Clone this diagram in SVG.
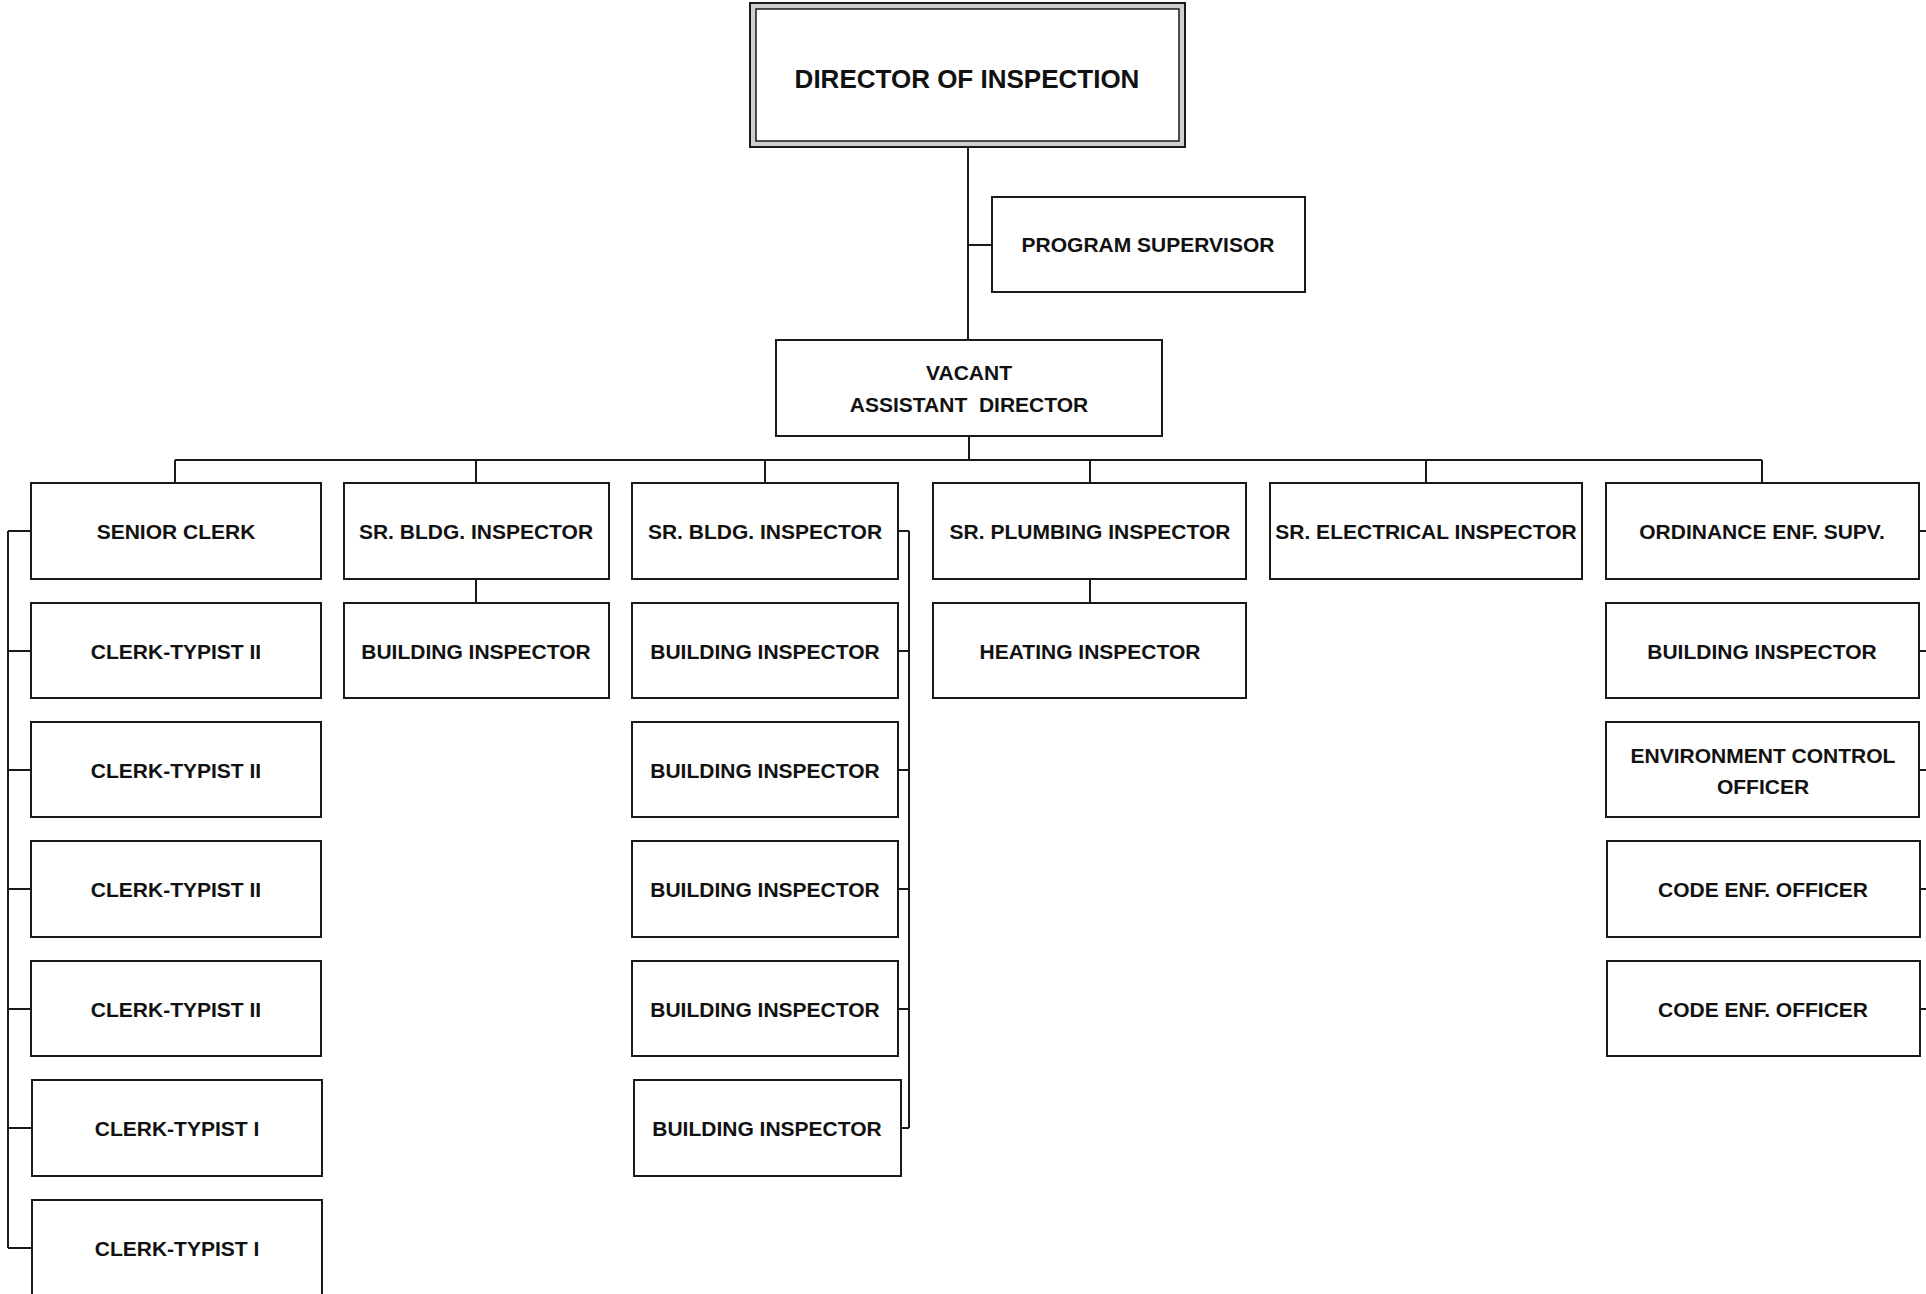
<svg xmlns="http://www.w3.org/2000/svg" width="1926" height="1294" viewBox="0 0 1926 1294">
<style>
.box{fill:#fff;stroke:#1a1a1a;stroke-width:2}
.t{font-family:"Liberation Sans",Arial,sans-serif;font-weight:bold;font-size:21px;fill:#111;text-anchor:middle}
.big{font-size:26px}
.c{fill:none;stroke:#1a1a1a;stroke-width:2}
</style>
<rect width="1926" height="1294" fill="#fff"/>
<g id="connectors">
<path class="c" d="M968 147V340M968 245H992M969 436V460M175 460H1762M175 460V483M476 460V483M765 460V483M1090 460V483M1426 460V483M1762 460V483M476 579V603M1090 579V603"/>
<path class="c" d="M8 531V1248M8 531H31M8 651H31M8 770H31M8 889H31M8 1009H31M8 1128H31M8 1248H31"/>
<path class="c" d="M909 531V1128M898 531H909M898 651H909M898 770H909M898 889H909M898 1009H909M901 1128H909"/>
<path class="c" d="M1919 531H1926M1919 651H1926M1919 770H1926M1919 889H1926M1919 1009H1926"/>
</g>
<g id="director">
<rect x="750" y="3" width="435" height="144" fill="#cfcfcf" stroke="#1a1a1a" stroke-width="2"/>
<rect x="756" y="9" width="423" height="132" fill="#fff" stroke="#1a1a1a" stroke-width="1.5"/>
<text class="t big" x="967" y="88">DIRECTOR OF INSPECTION</text>
</g>
<g id="program-supervisor"><rect class="box" x="992" y="197" width="313" height="95"/><text class="t" x="1148" y="252">PROGRAM SUPERVISOR</text></g>
<g id="assistant-director"><rect class="box" x="776" y="340" width="386" height="96"/><text class="t" x="969" y="380">VACANT</text><text class="t" x="969" y="412" xml:space="preserve">ASSISTANT  DIRECTOR</text></g>
<g id="senior-clerk"><rect class="box" x="31" y="483" width="290" height="96"/><text class="t" x="176" y="539">SENIOR CLERK</text></g>
<g id="clerk-typist-ii-1"><rect class="box" x="31" y="603" width="290" height="95"/><text class="t" x="176" y="659">CLERK-TYPIST II</text></g>
<g id="clerk-typist-ii-2"><rect class="box" x="31" y="722" width="290" height="95"/><text class="t" x="176" y="778">CLERK-TYPIST II</text></g>
<g id="clerk-typist-ii-3"><rect class="box" x="31" y="841" width="290" height="96"/><text class="t" x="176" y="897">CLERK-TYPIST II</text></g>
<g id="clerk-typist-ii-4"><rect class="box" x="31" y="961" width="290" height="95"/><text class="t" x="176" y="1017">CLERK-TYPIST II</text></g>
<g id="clerk-typist-i-1"><rect class="box" x="32" y="1080" width="290" height="96"/><text class="t" x="177" y="1136">CLERK-TYPIST I</text></g>
<g id="clerk-typist-i-2"><rect class="box" x="32" y="1200" width="290" height="100"/><text class="t" x="177" y="1256">CLERK-TYPIST I</text></g>
<g id="sr-bldg-inspector-1"><rect class="box" x="344" y="483" width="265" height="96"/><text class="t" x="476" y="539">SR. BLDG. INSPECTOR</text></g>
<g id="building-inspector-a"><rect class="box" x="344" y="603" width="265" height="95"/><text class="t" x="476" y="659">BUILDING INSPECTOR</text></g>
<g id="sr-bldg-inspector-2"><rect class="box" x="632" y="483" width="266" height="96"/><text class="t" x="765" y="539">SR. BLDG. INSPECTOR</text></g>
<g id="building-inspector-b1"><rect class="box" x="632" y="603" width="266" height="95"/><text class="t" x="765" y="659">BUILDING INSPECTOR</text></g>
<g id="building-inspector-b2"><rect class="box" x="632" y="722" width="266" height="95"/><text class="t" x="765" y="778">BUILDING INSPECTOR</text></g>
<g id="building-inspector-b3"><rect class="box" x="632" y="841" width="266" height="96"/><text class="t" x="765" y="897">BUILDING INSPECTOR</text></g>
<g id="building-inspector-b4"><rect class="box" x="632" y="961" width="266" height="95"/><text class="t" x="765" y="1017">BUILDING INSPECTOR</text></g>
<g id="building-inspector-b5"><rect class="box" x="634" y="1080" width="267" height="96"/><text class="t" x="767" y="1136">BUILDING INSPECTOR</text></g>
<g id="sr-plumbing-inspector"><rect class="box" x="933" y="483" width="313" height="96"/><text class="t" x="1090" y="539">SR. PLUMBING INSPECTOR</text></g>
<g id="heating-inspector"><rect class="box" x="933" y="603" width="313" height="95"/><text class="t" x="1090" y="659">HEATING INSPECTOR</text></g>
<g id="sr-electrical-inspector"><rect class="box" x="1270" y="483" width="312" height="96"/><text class="t" x="1426" y="539">SR. ELECTRICAL INSPECTOR</text></g>
<g id="ordinance-enf-supv"><rect class="box" x="1606" y="483" width="313" height="96"/><text class="t" x="1762" y="539">ORDINANCE ENF. SUPV.</text></g>
<g id="building-inspector-c"><rect class="box" x="1606" y="603" width="313" height="95"/><text class="t" x="1762" y="659">BUILDING INSPECTOR</text></g>
<g id="environment-control-officer"><rect class="box" x="1606" y="722" width="313" height="95"/><text class="t" x="1763" y="763">ENVIRONMENT CONTROL</text><text class="t" x="1763" y="794">OFFICER</text></g>
<g id="code-enf-officer-1"><rect class="box" x="1607" y="841" width="313" height="96"/><text class="t" x="1763" y="897">CODE ENF. OFFICER</text></g>
<g id="code-enf-officer-2"><rect class="box" x="1607" y="961" width="313" height="95"/><text class="t" x="1763" y="1017">CODE ENF. OFFICER</text></g>
</svg>
